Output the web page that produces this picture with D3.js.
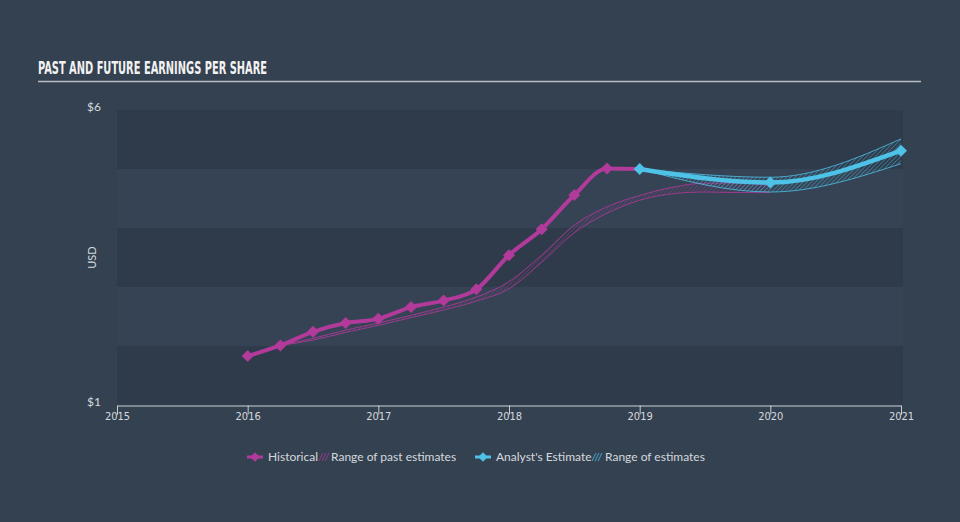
<!DOCTYPE html>
<html lang="en">
<head>
  <meta charset="UTF-8">
  <title>Past and Future Earnings Per Share</title>
  <script src="https://d3js.org/d3.v7.min.js"></script>
  <style>
    body { margin: 0; background: #344151; }
    svg { display: block; }
  </style>
</head>
<body>
  <script>

    // data
    var histYears = [2016, 2016.25, 2016.5, 2016.75, 2017, 2017.25, 2017.5, 2017.75, 2018, 2018.25, 2018.5, 2018.75, 2019];
    var histEps = [1.83, 2.01, 2.24, 2.39, 2.46, 2.66, 2.77, 2.96, 3.54, 3.98, 4.56, 5.01, 5.0];

    var pastRangeYears = [2016.25, 2016.5, 2016.75, 2017, 2017.25, 2017.5, 2017.75, 2018, 2018.25, 2018.5, 2018.75, 2019, 2019.25, 2019.5, 2019.75, 2020];
    var pastRangeLow = [2.01, 2.10, 2.23, 2.35, 2.48, 2.61, 2.76, 2.97, 3.42, 3.92, 4.25, 4.47, 4.58, 4.61, 4.60, 4.60];
    var pastRangeHigh = [2.01, 2.13, 2.27, 2.39, 2.52, 2.66, 2.83, 3.09, 3.54, 4.05, 4.36, 4.55, 4.69, 4.76, 4.76, 4.72];

    var estYears = [2019, 2020, 2021];
    var estEps = [5.0, 4.77, 5.31];
    var estLow = [5.0, 4.61, 5.09];
    var estHigh = [5.0, 4.86, 5.51];

    var xTicks = [2015, 2016, 2017, 2018, 2019, 2020, 2021];
    var yTicks = [1, 6];

    var magenta = "#b13a9b";
    var cyan = "#4ec2e7";
    var textColor = "#d5d9de";

    var width = 960, height = 522;

    var x = d3.scaleLinear().domain([2015, 2021]).range([117, 901]);
    var y = d3.scaleLinear().domain([1, 6]).range([405, 110]);

    var svg = d3.select("body").append("svg")
      .attr("width", width)
      .attr("height", height);

    var defs = svg.append("defs");
    function hatch(id, color) {
      var p = defs.append("pattern")
        .attr("id", id)
        .attr("patternUnits", "userSpaceOnUse")
        .attr("width", 3)
        .attr("height", 3)
        .attr("patternTransform", "rotate(45)");
      p.append("line")
        .attr("x1", 0).attr("y1", 0)
        .attr("x2", 0).attr("y2", 3)
        .attr("stroke", color)
        .attr("stroke-width", 1);
    }
    hatch("hatchPast", magenta);
    hatch("hatchEst", cyan);

    // background
    svg.append("rect")
      .attr("width", width).attr("height", height)
      .attr("fill", "#344151");

    // title (condensed look squeezed with textLength)
    svg.append("text")
      .attr("x", 38)
      .attr("y", 74)
      .attr("fill", "#f2f2f2")
      .attr("textLength", 229)
      .attr("lengthAdjust", "spacingAndGlyphs")
      .style("font-family", "'DejaVu Sans Condensed', 'DejaVu Sans', sans-serif")
      .style("font-weight", "bold")
      .style("font-size", "18px")
      .text("PAST AND FUTURE EARNINGS PER SHARE");

    svg.append("line")
      .attr("x1", 38).attr("x2", 921)
      .attr("y1", 81.5).attr("y2", 81.5)
      .attr("stroke", "#b7bcc4")
      .attr("stroke-width", 1.5);

    // alternating bands
    var bands = d3.range(1, 6);
    svg.selectAll(".band")
      .data(bands)
      .enter()
      .append("rect")
      .attr("x", x(2015))
      .attr("width", 903 - x(2015))
      .attr("y", function (d) { return y(d + 1); })
      .attr("height", function (d) { return y(d) - y(d + 1); })
      .attr("fill", function (d) { return d % 2 === 1 ? "#2f3b4b" : "#354354"; });

    // y labels
    svg.selectAll(".ylab")
      .data(yTicks)
      .enter()
      .append("text")
      .attr("x", 101)
      .attr("y", function (d) { return y(d); })
      .attr("text-anchor", "end")
      .attr("dy", "0.1em")
      .attr("fill", textColor)
      .style("font-family", "Lato, sans-serif")
      .style("font-size", "12px")
      .text(function (d) { return "$" + d; });

    svg.append("text")
      .attr("transform", "translate(96," + y(3.5) + ") rotate(-90)")
      .attr("text-anchor", "middle")
      .attr("fill", textColor)
      .style("font-family", "Lato, sans-serif")
      .style("font-size", "11px")
      .text("USD");

    // x axis
    var xAxis = svg.append("g")
      .attr("transform", "translate(0," + 405.5 + ")")
      .call(d3.axisBottom(x).tickValues(xTicks).tickFormat(d3.format("d")).tickSize(9).tickPadding(-2));
    xAxis.select(".domain").attr("stroke", "#c9ced5");
    xAxis.selectAll(".tick line").attr("stroke", "#c9ced5");
    xAxis.selectAll(".tick text")
      .attr("fill", textColor)
      .style("font-family", "'DejaVu Sans Condensed', sans-serif")
      .style("font-size", "11px");

    // range of past estimates
    var pastData = pastRangeYears.map(function (d, i) {
      return { x: d, lo: pastRangeLow[i], hi: pastRangeHigh[i] };
    });
    var area = d3.area()
      .curve(d3.curveMonotoneX)
      .x(function (d) { return x(d.x); })
      .y0(function (d) { return y(d.lo); })
      .y1(function (d) { return y(d.hi); });
    var lineLo = d3.line().curve(d3.curveMonotoneX)
      .x(function (d) { return x(d.x); })
      .y(function (d) { return y(d.lo); });
    var lineHi = d3.line().curve(d3.curveMonotoneX)
      .x(function (d) { return x(d.x); })
      .y(function (d) { return y(d.hi); });

    svg.append("path").datum(pastData)
      .attr("d", area).attr("fill", "url(#hatchPast)").attr("opacity", 0.7);
    svg.append("path").datum(pastData)
      .attr("d", lineLo).attr("fill", "none").attr("stroke", magenta).attr("stroke-width", 0.8);
    svg.append("path").datum(pastData)
      .attr("d", lineHi).attr("fill", "none").attr("stroke", magenta).attr("stroke-width", 0.8);

    // range of estimates
    var estData = estYears.map(function (d, i) {
      return { x: d, lo: estLow[i], hi: estHigh[i] };
    });
    svg.append("path").datum(estData)
      .attr("d", area).attr("fill", "url(#hatchEst)").attr("opacity", 0.8);
    svg.append("path").datum(estData)
      .attr("d", lineLo).attr("fill", "none").attr("stroke", cyan).attr("stroke-width", 0.8);
    svg.append("path").datum(estData)
      .attr("d", lineHi).attr("fill", "none").attr("stroke", cyan).attr("stroke-width", 0.8);

    // historical line
    var hist = histYears.map(function (d, i) { return { x: d, v: histEps[i] }; });
    var line = d3.line().curve(d3.curveMonotoneX)
      .x(function (d) { return x(d.x); })
      .y(function (d) { return y(d.v); });
    svg.append("path").datum(hist)
      .attr("d", line).attr("fill", "none").attr("stroke", magenta).attr("stroke-width", 4);

    // square rotated 45 degrees gives an even diamond
    var diamond = d3.symbol().type(d3.symbolSquare).size(72);
    svg.selectAll(".hdot")
      .data(hist.slice(0, -1))
      .enter()
      .append("path")
      .attr("d", diamond)
      .attr("transform", function (d) { return "translate(" + x(d.x) + "," + y(d.v) + ") rotate(45)"; })
      .attr("fill", magenta);

    // analyst estimate
    var est = estYears.map(function (d, i) { return { x: d, v: estEps[i] }; });
    svg.append("path").datum(est)
      .attr("d", line).attr("fill", "none").attr("stroke", cyan).attr("stroke-width", 4.5);
    svg.selectAll(".edot")
      .data(est)
      .enter()
      .append("path")
      .attr("d", diamond)
      .attr("transform", function (d) { return "translate(" + x(d.x) + "," + y(d.v) + ") rotate(45)"; })
      .attr("fill", cyan);

    // legend
    var legend = svg.append("g").attr("transform", "translate(0,457)");
    var legendFont = "Lato, sans-serif";
    function legendLine(cx, color) {
      legend.append("line")
        .attr("x1", cx - 8).attr("x2", cx + 8)
        .attr("y1", 0).attr("y2", 0)
        .attr("stroke", color).attr("stroke-width", 3);
      legend.append("path")
        .attr("d", d3.symbol().type(d3.symbolSquare).size(45))
        .attr("transform", "translate(" + cx + ",0) rotate(45)")
        .attr("fill", color);
    }
    function legendHatch(cx, color) {
      for (var k = 0; k < 3; k++) {
        legend.append("line")
          .attr("x1", cx - 4 + k * 3).attr("x2", cx + k * 3)
          .attr("y1", 4).attr("y2", -4)
          .attr("stroke", color).attr("stroke-width", 1).attr("opacity", 0.8);
      }
    }
    function legendText(tx, str) {
      legend.append("text")
        .attr("x", tx).attr("y", 0).attr("dy", "0.35em")
        .attr("fill", textColor)
        .style("font-family", legendFont)
        .style("font-size", "12px")
        .text(str);
    }
    legendLine(255, magenta);
    legendText(268, "Historical");
    legendHatch(323, magenta);
    legendText(331, "Range of past estimates");
    legendLine(483, cyan);
    legendText(496, "Analyst's Estimate");
    legendHatch(596, cyan);
    legendText(605, "Range of estimates");
  </script>
</body>
</html>
